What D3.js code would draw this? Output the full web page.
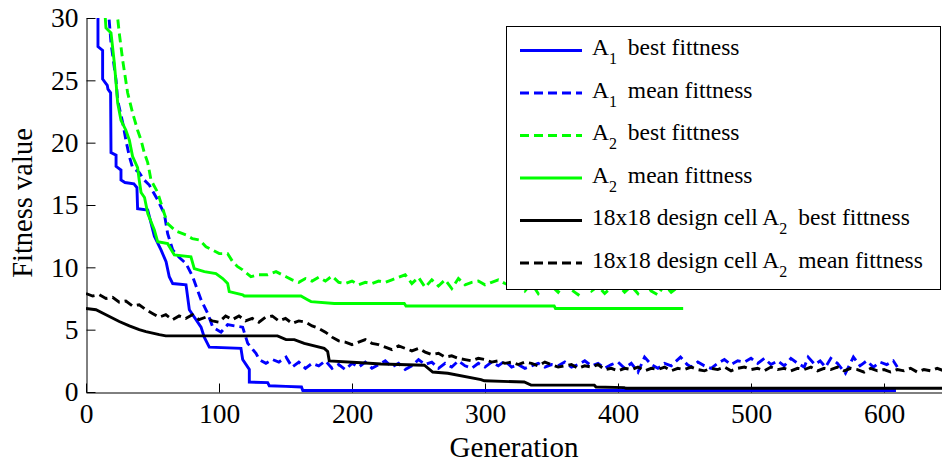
<!DOCTYPE html>
<html>
<head>
<meta charset="utf-8">
<script src="https://cdn.jsdelivr.net/npm/d3@7"></script>
<style>
  body { margin: 0; background: #fff; }
  svg { display: block; font-family: "Liberation Serif", "Times New Roman", serif; }
</style>
</head>
<body>
<div id="chart"></div>
<script>
// [generation, fitness]
const a1Best = [
  [9,31],[9,27.7],[12.5,27.4],[12.5,25.1],[16,24.6],[16.5,24.3],[18.5,24.0],[18.8,19.2],
  [22.6,19.0],[22.6,18.1],[26.3,17.8],[26.3,17.0],[29.3,16.8],[36,16.7],[38.3,16.4],[38.8,14.7],
  [46.4,14.6],[51.4,12.5],[56.4,11.4],[60.2,10.45],[62.6,9.25],[65.2,8.7],[75.2,8.6],[77.7,6.6],
  [86.5,5.2],[88.9,4.4],[92.7,3.6],[116.5,3.5],[117.8,2.6],[122.8,1.8],[122.8,0.8],[136.6,0.75],
  [137.8,0.5],[150.4,0.45],[162,0.4],[163,0.12],[609,0.12]
];

const a1Mean = [
  [17.3,31],[17.3,30],[18.8,28],[22.6,25],[23.8,23.4],[27.6,21.6],[30,20.2],[32.6,18.9],[35,18.0],
  [40,17.6],[43.8,17.0],[47.6,16.6],[53.9,15.4],[58.9,14.3],[61.4,12.7],[65.2,11.4],[70,10.8],
  [75.2,10.3],[80.2,9.25],[86.5,7.4],[91.5,6.3],[95.3,5.2],[101.5,4.8],[106.5,5.4],[112,5.3],
  [117.8,5.2],[121.6,3.9],[127.8,3.1],[130.3,2.6],[135.3,2.3],[140.3,2.6],[145,2.4],[150.4,2.8],
  [155,2.0],[160,2.4],[165,1.9],[170,2.3],[175,2.1],[180,2.5],[185,1.9],[190,2.2],[195,1.8],
  [200,2.3],[205,2.0],[210,2.4],[215,1.9],[220,2.2],[225,2.5],[230,2.0],[235,2.3],[240,1.8],
  [245,2.1],[250,2.6],[255,2.2],[260,2.4],[265,1.9],[270,2.3],[275,2.0],[280,2.5],[285,2.1],
  [290,1.9],[295,2.3],[300,2.0],[305,2.4],[310,2.1],[315,2.5],[320,2.0],[325,2.2],[330,1.9],
  [335,2.1],[340,2.3],[345,2.0],[350,2.2],[355,2.1],[360,2.4],[365,2.0],[370,2.2],[375,2.5],
  [380,2.1],[385,2.3],[390,1.9],[395,2.2],[400,2.4],[405,1.9],[410,2.3],[415,1.6],[420,2.8],
  [425,2.2],[430,1.9],[435,2.3],[440,2.1],[447,2.8],[452,2.2],[455,2.0],[460,2.4],[465,2.1],
  [470,1.9],[475,2.3],[480,2.6],[485,2.2],[490,2.5],[495,2.4],[500,2.7],[505,2.3],[510,2.7],
  [515,2.2],[520,2.5],[525,2.1],[530,2.7],[535,2.3],[540,2.0],[543,2.8],[548,2.2],[552,2.5],
  [556,2.0],[560,2.7],[565,2.3],[571,1.5],[577,2.8],[582,2.1],[587,2.5],[592,2.0],[597,2.4],
  [602,2.2],[607,2.5],[610,2.0]
];

const a2Best = [
  [23.8,31],[23.8,30],[25,28.8],[27.6,26.6],[31.3,24],[35,22.4],[38.8,21],[41.4,20.2],[43.8,19.2],
  [46.4,18.4],[48.9,17],[53.9,16],[58.9,14.3],[61.4,13.5],[67.7,12.9],[75.2,12.6],[80,12.3],
  [85.2,12.2],[90.2,11.65],[95,11.4],[100.2,11.1],[106.5,11.1],[110.3,10.45],[114,10.05],
  [117.8,9.8],[124,9.25],[130,9.4],[136.6,9.4],[142.9,9.65],[150.4,9.25],
  [155,9.0],[160,8.8],[165,9.1],[170,8.9],[175,9.2],[180,8.9],[185,9.3],[190,8.8],[195,8.7],
  [200,8.9],[205,8.6],[210,8.8],[215,8.7],[220,8.9],[225,8.8],[230,9.0],[235,9.2],[240,9.4],
  [245,8.7],[250,9.2],[255,8.4],[260,9.0],[265,8.5],[270,9.0],[275,8.3],[280,9.1],[285,8.6],
  [290,8.8],[295,8.9],[300,8.6],[305,8.8],[310,9.0],[315,8.7],[320,8.5],[325,8.8],[330,8.1],
  [335,8.7],[340,7.9],[345,8.6],[350,8.5],[355,8.0],[360,8.7],[365,8.2],[370,7.8],[375,8.6],
  [380,8.1],[385,8.5],[390,7.9],[395,8.4],[400,8.6],[405,8.0],[410,8.5],[415,7.9],[420,8.7],
  [425,8.1],[430,7.8],[435,8.6],[440,8.0],[445,8.4]
];

const a2Mean = [
  [14.5,31],[14.5,30],[15,29.2],[18.8,28.8],[21.3,26.4],[22.6,24.8],[23.8,23.2],[26.3,21.8],
  [30,21],[32.6,20.2],[35,18.9],[38.8,18.0],[40,17.0],[41.4,16.0],[44,15.6],[46.5,14.3],
  [51.4,13.0],[53.9,12.05],[61.4,11.9],[66.4,11.0],[78.9,10.85],[81.4,9.9],[89,9.65],[97.7,9.5],
  [102.8,9.1],[106.5,8.7],[107.7,8.05],[117.8,7.8],[119,7.7],[161.6,7.7],[166.6,7.4],[169.2,7.25],
  [186.7,7.1],[239.3,7.1],[240.6,6.9],[352,6.9],[353,6.7],[449,6.7]
];

const cellBest = [
  [0,6.7],[7.5,6.6],[15,6.2],[25,5.65],[32.6,5.3],[40,5.0],[45.1,4.85],[55.1,4.6],[60,4.5],
  [144,4.5],[150.4,4.2],[156.6,4.2],[164.1,3.9],[179.1,3.5],[181.7,3.25],[182.9,2.5],[206.8,2.35],
  [221.8,2.25],[254.4,2.15],[260.7,1.6],[272,1.5],[297,1.0],[299.5,0.9],[329.5,0.8],[334.6,0.55],
  [382.2,0.55],[383.5,0.4],[404.7,0.35],[406,0.3],[645,0.3]
];

const cellMean = [
  [0,7.9],[5,7.7],[10,7.8],[15,7.5],[20,7.6],[25,7.2],[30,7.3],[35,6.9],[40,7.0],[45,6.6],
  [50,6.3],[55,6.0],[60,6.2],[65,5.8],[70,6.1],[75,5.9],[80,6.2],[85,5.8],[90,6.0],[95,5.7],
  [100,5.6],[105,6.1],[110,5.8],[115,6.1],[120,5.7],[125,5.9],[130,5.6],[135,6.0],[140,6.1],
  [145,5.7],[150,5.9],[155,5.5],[160,5.7],[165,5.6],[170,5.3],[175,5.1],[180,4.8],[185,4.4],
  [190,4.1],[195,4.0],[200,3.8],[205,4.0],[210,4.2],[215,3.9],[220,3.8],[225,3.6],[230,3.4],
  [235,3.7],[240,3.5],[245,3.3],[250,3.5],[255,3.2],[260,3.0],[265,3.1],[270,2.8],[275,2.9],
  [280,2.7],[285,2.6],[290,2.5],[295,2.7],[300,2.6],[305,2.4],[310,2.5],[315,2.3],[320,2.4],
  [325,2.2],[330,2.4],[335,2.3],[340,2.1],[345,2.4],[350,2.2],[355,2.0],[360,2.1],[365,2.2],
  [370,1.9],[375,2.1],[380,2.0],[385,2.2],[390,1.8],[395,1.9],[400,1.7],[405,1.9],[410,1.8],
  [415,2.0],[420,1.7],[425,1.9],[430,1.8],[435,2.0],[440,1.7],[445,1.9],[450,1.8],[455,2.0],
  [460,1.8],[465,1.7],[470,1.9],[475,1.8],[480,2.0],[485,1.7],[490,1.9],[495,2.0],[500,1.8],
  [505,1.9],[510,1.7],[515,2.0],[520,1.8],[525,1.9],[530,1.7],[535,1.9],[540,1.8],[545,2.0],
  [550,1.7],[555,1.9],[560,1.8],[565,2.0],[570,1.7],[575,1.9],[580,1.8],[585,1.6],[590,1.9],
  [595,1.7],[600,1.8],[605,1.6],[610,1.8],[615,1.7],[620,1.9],[625,1.6],[630,1.8],[635,1.7],
  [640,1.9],[645,1.7]
];

const xTicks = [0, 100, 200, 300, 400, 500, 600];
const yTicks = [0, 5, 10, 15, 20, 25, 30];

const series = [
  { data: a1Best, color: "#0000ff", dashed: false, label: ["A", "1", " best fittness"] },
  { data: a1Mean, color: "#0000ff", dashed: true, label: ["A", "1", " mean fittness"] },
  { data: a2Best, color: "#00ff00", dashed: true, label: ["A", "2", " best fittness"] },
  { data: a2Mean, color: "#00ff00", dashed: false, label: ["A", "2", " mean fittness"] },
  { data: cellBest, color: "#000000", dashed: false, label: ["18x18 design cell A", "2", " best fittness"] },
  { data: cellMean, color: "#000000", dashed: true, label: ["18x18 design cell A", "2", " mean fittness"] },
];

const width = 942;
const height = 463;
const margin = { top: 18, right: 0, bottom: 71, left: 86 };

const svg = d3.select("#chart").append("svg")
  .attr("width", width)
  .attr("height", height);

const x = d3.scaleLinear().domain([0, 645]).range([margin.left, margin.left + 645 * 1.33]);
const y = d3.scaleLinear().domain([0, 30]).range([height - margin.bottom, margin.top]);

svg.append("defs").append("clipPath").attr("id", "plotclip")
  .append("rect")
  .attr("x", margin.left).attr("y", margin.top)
  .attr("width", width - margin.left).attr("height", y(0) - margin.top);

// axes, ticks pointing inside
const xAxis = svg.append("g")
  .attr("transform", `translate(0,${y(0) + 0.5})`)
  .call(d3.axisBottom(x).tickValues(xTicks).tickSizeInner(-9).tickSizeOuter(0).tickPadding(11));
const yAxis = svg.append("g")
  .attr("transform", `translate(${margin.left + 0.5},0)`)
  .call(d3.axisLeft(y).tickValues(yTicks).tickSizeInner(-9).tickSizeOuter(0).tickPadding(8));

[xAxis, yAxis].forEach((g) => {
  g.selectAll("text").attr("font-size", 27.5).attr("fill", "#000")
    .attr("font-family", "'Liberation Serif', serif");
  g.selectAll("line").attr("stroke", "#000");
  g.select(".domain").attr("stroke", "#000");
});

const line = d3.line().x((d) => x(d[0])).y((d) => y(d[1]));

const plot = svg.append("g").attr("clip-path", "url(#plotclip)");
series.forEach((s) => {
  plot.append("path")
    .datum(s.data)
    .attr("fill", "none")
    .attr("stroke", s.color)
    .attr("stroke-width", 2.9)
    .attr("stroke-dasharray", s.dashed ? "9,5" : null)
    .attr("d", line);
});

// axis labels
svg.append("text")
  .attr("x", 514).attr("y", 457)
  .attr("text-anchor", "middle")
  .attr("font-size", 29)
  .text("Generation");

svg.append("text")
  .attr("transform", "translate(32,203) rotate(-90)")
  .attr("text-anchor", "middle")
  .attr("font-size", 28.5)
  .text("Fitness value");

// legend
const legend = svg.append("g");
legend.append("rect")
  .attr("x", 506.5).attr("y", 26.5)
  .attr("width", 434).attr("height", 263)
  .attr("fill", "#fff").attr("stroke", "#000").attr("stroke-width", 1);

series.forEach((s, i) => {
  const by = 55 + i * 42.5;
  legend.append("line")
    .attr("x1", 520).attr("x2", 582)
    .attr("y1", by - 4.5).attr("y2", by - 4.5)
    .attr("stroke", s.color)
    .attr("stroke-width", 2.9)
    .attr("stroke-dasharray", s.dashed ? "9,5" : null);

  const t = legend.append("text")
    .attr("x", 592).attr("y", by)
    .attr("font-size", 23.5);
  t.append("tspan").text(s.label[0]);
  t.append("tspan").attr("font-size", 16).attr("dy", 9).text(s.label[1]);
  t.append("tspan").attr("dy", -9).attr("dx", 5).text(s.label[2]);
});
</script>
</body>
</html>
